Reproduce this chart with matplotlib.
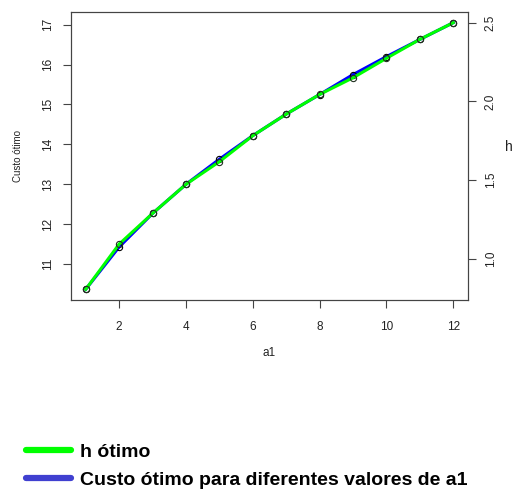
import matplotlib
matplotlib.use("Agg")
import matplotlib.pyplot as plt
from matplotlib.lines import Line2D

plt.rcParams['font.family'] = ['Liberation Sans', 'DejaVu Sans']

# data
a1 = [1, 2, 3, 4, 5, 6, 7, 8, 9, 10, 11, 12]
custo = [10.37, 11.43, 12.27, 13.0, 13.63, 14.22, 14.76, 15.25, 15.75, 16.2, 16.63, 17.05]
h_otimo = [0.806, 1.093, 1.288, 1.473, 1.617, 1.782, 1.919, 2.044, 2.15, 2.274, 2.394, 2.5]

fig = plt.figure(figsize=(5.16, 4.90), dpi=100)
ax = fig.add_axes([0.1376, 0.3878, 0.7694, 0.5877])
ax2 = ax.twinx()

ax.plot(a1, custo, color='#0000ff', lw=2.2, marker='o', ms=4.5, mfc='none', mec='black', mew=0.8)
ax2.plot(a1, h_otimo, color='#00ff00', lw=2.2, marker='o', ms=4.5, mfc='none', mec='#203020', mew=0.8)

def pad(v):
    r = max(v) - min(v)
    return min(v) - 0.04 * r, max(v) + 0.04 * r

ax.set_xlim(pad(a1))
ax.set_ylim(pad(custo))
ax2.set_ylim(pad(h_otimo))

ax.set_xticks([2, 4, 6, 8, 10, 12])
ax.set_yticks([11, 12, 13, 14, 15, 16, 17])
ax2.set_yticks([1.0, 1.5, 2.0, 2.5])
ax2.set_yticklabels(['1.0', '1.5', '2.0', '2.5'])

for a in (ax, ax2):
    for s in a.spines.values():
        s.set_color('#444444')
        s.set_linewidth(0.8)
    a.tick_params(length=6, width=0.8, color='#444444', labelsize=8.5, labelcolor='#222222')
ax.tick_params(axis='x', pad=9)
ax.tick_params(axis='y', pad=6)
ax2.tick_params(axis='y', pad=6)
for t in ax.get_yticklabels():
    t.set_rotation(90)
    t.set_va('center')
for t in ax2.get_yticklabels():
    t.set_rotation(90)
    t.set_va('center')

ax.set_xlabel('a1', fontsize=8.5, color='#222222', labelpad=10)
ax.set_ylabel('Custo ótimo', fontsize=7, color='#222222', labelpad=14)
fig.text(0.994, 0.70, 'h', fontsize=10, ha='right', va='center', color='#222222')

handles = [Line2D([], [], color='#00ff00', lw=4.5, solid_capstyle='round'),
           Line2D([], [], color='#4040d0', lw=4.5, solid_capstyle='round')]
fig.legend(handles, ['h ótimo', 'Custo ótimo para diferentes valores de a1'],
           loc='center left', bbox_to_anchor=(0.05, 0.049), frameon=False,
           prop={'weight': 'bold', 'size': 14}, handlelength=2.3, handletextpad=0.5,
           labelspacing=0.55, borderaxespad=0, borderpad=0)

fig.savefig('out.png', dpi=100)
